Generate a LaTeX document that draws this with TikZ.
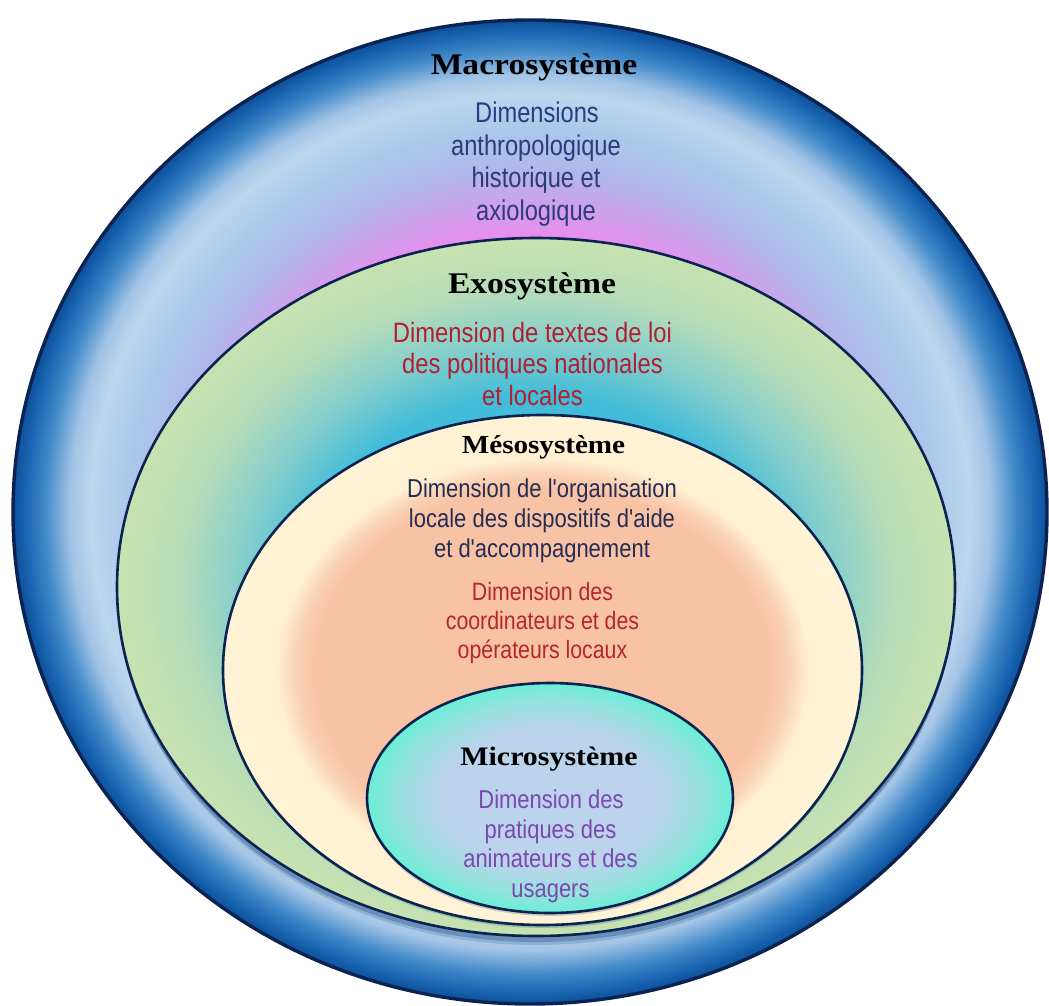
\documentclass[tikz,border=0pt]{standalone}
\usepackage{fontspec}
\usepackage{graphicx}
\usetikzlibrary{shapes.geometric}
\newfontfamily\serifb{Liberation Serif}
\newfontfamily\sansn{Liberation Sans}
\newcommand{\sx}[2]{\scalebox{#1}[1]{#2}}

\definecolor{edgec}{HTML}{0B2350}
\definecolor{mpink}{HTML}{EE8AEE}
\definecolor{mlav}{HTML}{D09EEC}
\definecolor{mlavb}{HTML}{B0B8EA}
\definecolor{mbA}{HTML}{AAC8EA}
\definecolor{mlight}{HTML}{BDD6EE}
\definecolor{mbB}{HTML}{A2C4E6}
\definecolor{mbC}{HTML}{3F88C8}
\definecolor{mbD}{HTML}{1A66B2}
\definecolor{mbE}{HTML}{0D4F9A}
\definecolor{ecyan}{HTML}{42BCD8}
\definecolor{eteal}{HTML}{84CECC}
\definecolor{egreenA}{HTML}{B6DCB8}
\definecolor{egreenB}{HTML}{C8E2B0}
\definecolor{speach}{HTML}{F8C2A4}
\definecolor{speachB}{HTML}{FAD2B4}
\definecolor{scream}{HTML}{FFF0D2}
\definecolor{screamB}{HTML}{FFF3D6}
\definecolor{ublue}{HTML}{BCD3EC}
\definecolor{uaquaA}{HTML}{94E2DE}
\definecolor{uaquaB}{HTML}{6AEED6}
\definecolor{macrotxt}{HTML}{2B3B7C}
\definecolor{exotxt}{HTML}{B02030}
\definecolor{mesonavy}{HTML}{252D55}
\definecolor{mesored}{HTML}{B42828}
\definecolor{microtxt}{HTML}{7A48B0}
\definecolor{shadowc}{HTML}{0A3C7A}

\pgfdeclareradialshading{macroshade}{\pgfpoint{0bp}{0bp}}{%
color(0bp)=(mpink); color(13.75bp)=(mpink); color(15.5bp)=(mlav);
color(17.5bp)=(mlavb); color(19.5bp)=(mbA); color(21.25bp)=(mlight);
color(22.25bp)=(mbB); color(23.5bp)=(mbC); color(24.4bp)=(mbD);
color(25bp)=(mbE); color(50bp)=(mbE)}
\pgfdeclareradialshading{exoshade}{\pgfpoint{0bp}{0bp}}{%
color(0bp)=(ecyan); color(13.75bp)=(ecyan); color(17.5bp)=(eteal);
color(21.25bp)=(egreenA); color(25bp)=(egreenB); color(50bp)=(egreenB)}
\pgfdeclareradialshading{mesoshade}{\pgfpoint{0bp}{0bp}}{%
color(0bp)=(speach); color(17.8bp)=(speach); color(19.3bp)=(speachB);
color(20.8bp)=(scream); color(25bp)=(screamB); color(50bp)=(screamB)}
\pgfdeclareradialshading{microshade}{\pgfpoint{0bp}{0bp}}{%
color(0bp)=(ublue); color(15bp)=(ublue); color(21bp)=(uaquaA);
color(25bp)=(uaquaB); color(50bp)=(uaquaB)}

\tikzset{
  ring/.style={ellipse, draw=edgec, line width=2.6pt, inner sep=0pt, outer sep=0pt},
  shad/.style={fill=shadowc},
  ttl/.style={anchor=base, inner sep=0pt, text=black},
  linetxt/.style={anchor=base, inner sep=0pt},
  macrofont/.style={font={\sansn\fontsize{28.5}{32}\selectfont}, text=macrotxt},
  exofont/.style={font={\sansn\fontsize{28}{32}\selectfont}, text=exotxt},
  mesoAfont/.style={font={\sansn\fontsize{25.9}{30}\selectfont}, text=mesonavy},
  mesoBfont/.style={font={\sansn\fontsize{25.1}{29}\selectfont}, text=mesored},
  microfont/.style={font={\sansn\fontsize{25.8}{30}\selectfont}, text=microtxt},
}

\begin{document}
\begin{tikzpicture}[x=1pt,y=-1pt]
\fill[white] (0,0) rectangle (1049,1006);
\useasboundingbox (0,0) rectangle (1049,1006);

% Macrosysteme
\node[ring, line width=3.4pt, minimum width=1034pt, minimum height=984pt, shading=macroshade] (macro) at (530,512) {};

% shadow of exosysteme
\fill[shad, opacity=0.18] (536,595) ellipse [x radius=418, y radius=350];
\fill[shad, opacity=0.30] (536,592) ellipse [x radius=419, y radius=350];
\node[ring, minimum width=838pt, minimum height=698pt, shading=exoshade] (exo) at (536,587) {};

% shadow of mesosysteme
\fill[shad, opacity=0.22] (543,673) ellipse [x radius=319, y radius=255];
\node[ring, minimum width=639pt, minimum height=510pt, shading=mesoshade] (meso) at (542.5,670) {};

% shadow of microsysteme
\fill[shad, opacity=0.22] (550,801) ellipse [x radius=183, y radius=115];
\node[ring, minimum width=366pt, minimum height=230pt, shading=microshade] (micro) at (550,798) {};

% Titles
\node[ttl, font={\serifb\bfseries\fontsize{30}{36}\selectfont}] (tmacro) at (534,75) {\sx{1.12}{Macrosystème}};
\node[ttl, font={\serifb\bfseries\fontsize{30}{36}\selectfont}] (texo) at (532,293) {\sx{1.12}{Exosystème}};
\node[ttl, font={\serifb\bfseries\fontsize{26}{30}\selectfont}] (tmeso) at (543.5,453) {\sx{1.12}{Mésosystème}};
\node[ttl, font={\serifb\bfseries\fontsize{26.7}{30}\selectfont}] (tmicro) at (549,765) {\sx{1.12}{Microsystème}};

% Macro text
\node[linetxt, macrofont] (ma1) at (537,123) {\sx{0.83}{Dimensions}};
\node[linetxt, macrofont] (ma2) at (536,155.3) {\sx{0.83}{anthropologique}};
\node[linetxt, macrofont] (ma3) at (536,187.7) {\sx{0.83}{historique et}};
\node[linetxt, macrofont] (ma4) at (536,220) {\sx{0.83}{axiologique}};

% Exo text
\node[linetxt, exofont] (ex1) at (532.5,342) {\sx{0.85}{Dimension de textes de loi}};
\node[linetxt, exofont] (ex2) at (532.5,373.5) {\sx{0.85}{des politiques nationales}};
\node[linetxt, exofont] (ex3) at (532.5,405) {\sx{0.85}{et locales}};

% Meso text
\node[linetxt, mesoAfont] (me1) at (542,497) {\sx{0.85}{Dimension de l\textquotesingle organisation}};
\node[linetxt, mesoAfont] (me2) at (542,527) {\sx{0.85}{locale des dispositifs d\textquotesingle aide}};
\node[linetxt, mesoAfont] (me3) at (542,557) {\sx{0.85}{et d\textquotesingle accompagnement}};
\node[linetxt, mesoBfont] (me4) at (542.5,600) {\sx{0.85}{Dimension des}};
\node[linetxt, mesoBfont] (me5) at (542.5,629) {\sx{0.85}{coordinateurs et des}};
\node[linetxt, mesoBfont] (me6) at (542.5,658) {\sx{0.85}{opérateurs locaux}};

% Micro text
\node[linetxt, microfont] (mi1) at (551,808) {\sx{0.85}{Dimension des}};
\node[linetxt, microfont] (mi2) at (550.5,838) {\sx{0.85}{pratiques des}};
\node[linetxt, microfont] (mi3) at (550.5,867.5) {\sx{0.85}{animateurs et des}};
\node[linetxt, microfont] (mi4) at (550.5,897) {\sx{0.85}{usagers}};
\end{tikzpicture}
\end{document}
